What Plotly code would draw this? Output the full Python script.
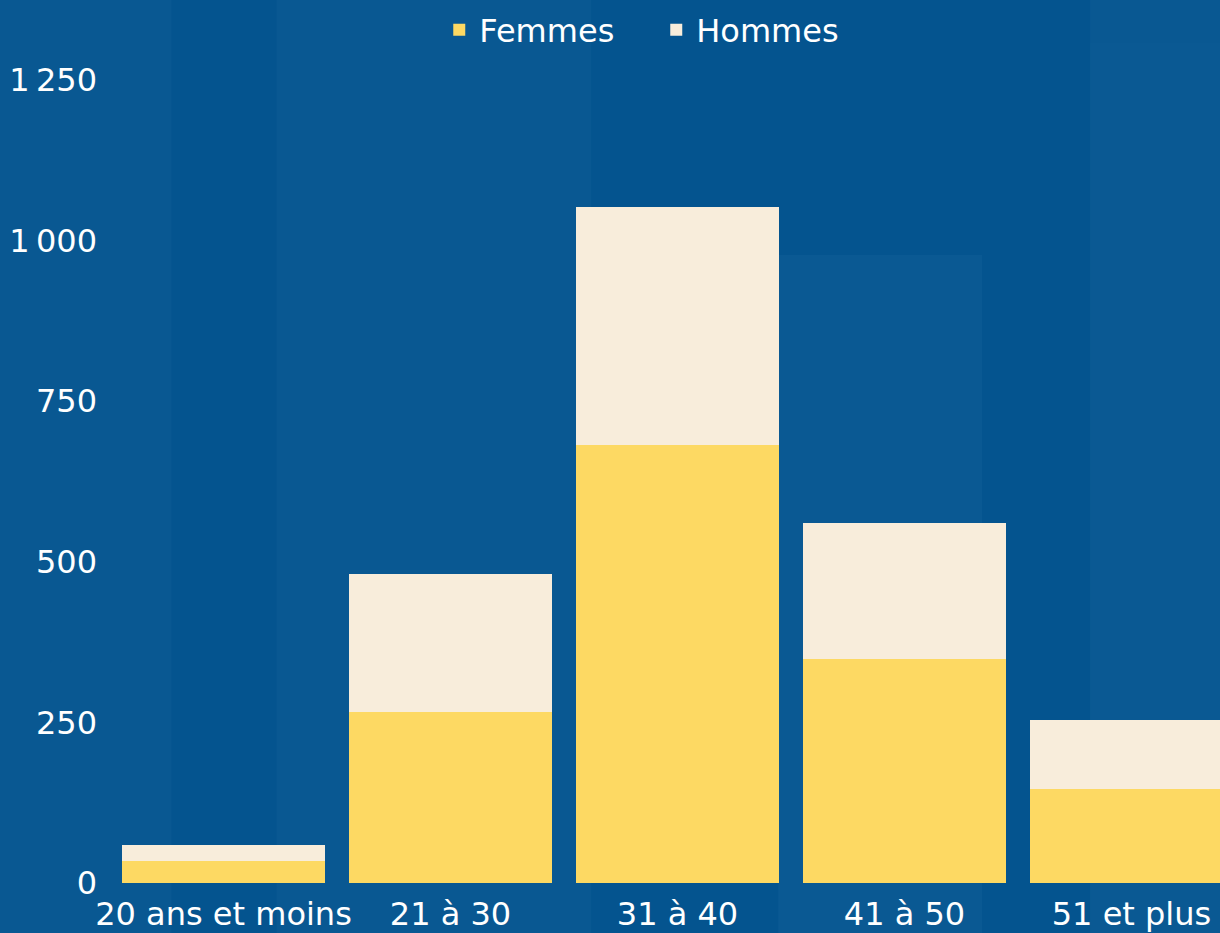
import plotly.graph_objects as go

categories = ["20 ans et moins", "21 à 30", "31 à 40", "41 à 50", "51 et plus"]
femmes = [34, 266, 682, 349, 146]
hommes = [25, 215, 370, 211, 108]
tick_vals = [0, 250, 500, 750, 1000, 1250]
tick_text = ["0", "250", "500", "750", "1\u202f000", "1\u202f250"]

W, H = 1220, 933
ML, MT, MB = 109.5, 50, 50
plot_w = W - ML
plot_h = H - MT - MB

BG = "#095892"
DARK = "#04548f"
LIGHT = "#0a5993"
FONT = "DejaVu Sans"
FS = 32

fig = go.Figure()
fig.add_trace(go.Bar(name="Femmes", x=categories, y=femmes, marker_color="#fdd963",
                     marker_line_width=0))
fig.add_trace(go.Bar(name="Hommes", x=categories, y=hommes, marker_color="#f8eddb",
                     marker_line_width=0))

# faint background stripes (pixel rectangles of the backdrop)
def px_rect(x0, y0, x1, y1, color):
    fig.add_shape(type="rect", xref="paper", yref="paper", layer="below",
                  x0=(x0 - ML) / plot_w, x1=(x1 - ML) / plot_w,
                  y0=(H - MB - y1) / plot_h, y1=(H - MB - y0) / plot_h,
                  fillcolor=color, line_width=0)

px_rect(171, 0, 276, H, DARK)
px_rect(591, 0, 1090, H, DARK)
px_rect(778, 255, 982, H, LIGHT)
px_rect(1090, 43, W, H, LIGHT)

fig.update_layout(
    width=W, height=H,
    barmode="stack", bargap=0.106,
    paper_bgcolor=BG, plot_bgcolor="rgba(0,0,0,0)",
    margin=dict(l=ML, r=0, t=MT, b=MB),
    font=dict(family=FONT, color="#ffffff", size=FS),
    legend=dict(orientation="h", x=(656 - ML) / plot_w, xanchor="center",
                y=(H - MB - 30) / plot_h, yanchor="middle",
                font=dict(size=FS, color="#ffffff", family=FONT),
                bgcolor="rgba(0,0,0,0)", itemwidth=30, traceorder="normal",
                entrywidth=172, entrywidthmode="pixels"),
    xaxis=dict(range=[-0.5, 4.39], showgrid=False, zeroline=False, showline=False,
               ticks="", ticklabelstandoff=9,
               tickfont=dict(size=FS, color="#ffffff", family=FONT)),
    yaxis=dict(range=[0, plot_h / 0.6424], showgrid=False, zeroline=False, showline=False,
               tickvals=tick_vals, ticktext=tick_text, ticks="",
               ticklabelstandoff=12, tickfont=dict(size=FS, color="#ffffff", family=FONT)),
)

fig.write_html("out.html", config={"displayModeBar": False},
               post_script="document.body.style.margin='0';document.body.style.overflow='hidden';")
